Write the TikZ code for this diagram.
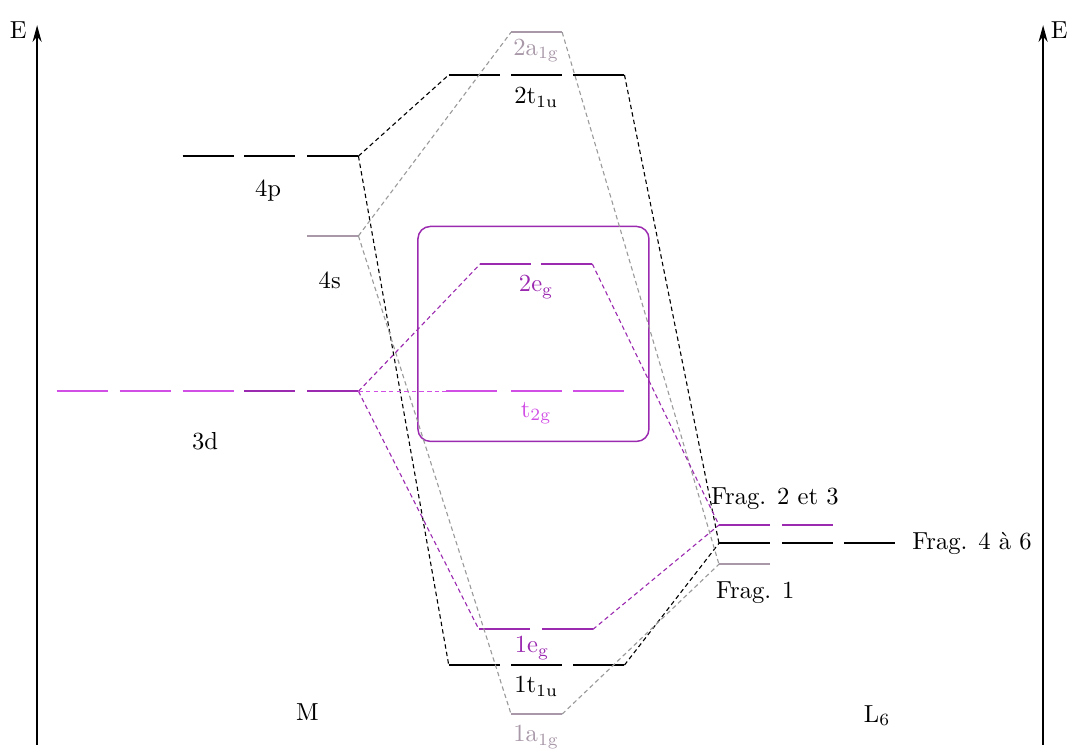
\documentclass[tikz,border=0pt]{standalone}
\usepackage{tikz}
\usetikzlibrary{arrows.meta, positioning}
\usepackage{xcolor}
\definecolor{egcol}{HTML}{9B2AB0}
\definecolor{tgcol}{HTML}{D24FE6}
\definecolor{agcol}{HTML}{A898A8}
\definecolor{aglink}{HTML}{9A9A9A}

\begin{document}
\begin{tikzpicture}[
    every node/.style={font=\normalsize, inner sep=1pt},
    lvl/.style={line width=0.75pt},
    link/.style={dash pattern=on 1.8pt off 1.3pt, line width=0.45pt},
    axis/.style={-{Stealth[length=2.4mm, width=1.3mm]}, line width=0.5pt},
    framebox/.style={draw=egcol, rounded corners=5pt, line width=0.6pt,
                     minimum width=3.30cm, minimum height=3.07cm}
]
    \useasboundingbox (0,0) rectangle (15.27,10.73);

    % Energy axes
    \coordinate (axLb) at (0.53, 0.09);
    \coordinate (axLt) at (0.53, 10.37);
    \coordinate (axRb) at (14.90, 0.09);
    \coordinate (axRt) at (14.90, 10.37);
    \draw[axis] (axLb) -- (axLt);
    \draw[axis] (axRb) -- (axRt);
    \node (eL) at (0.26, 10.30) {E};
    \node (eR) at (15.13, 10.30) {E};

    % Metal levels
    \foreach \x in {2.61, 3.49, 4.39}
        \draw[lvl] (\x, 8.50) -- ++(0.73, 0);
    \draw[lvl, agcol] (4.39, 7.36) -- ++(0.73, 0);
    \foreach \x in {0.81, 1.71, 2.61}
        \draw[lvl, tgcol] (\x, 5.14) -- ++(0.73, 0);
    \foreach \x in {3.49, 4.39}
        \draw[lvl, egcol] (\x, 5.14) -- ++(0.73, 0);
    \node (l4p) at (3.83, 8.01) {4p};
    \node (l4s) at (4.71, 6.73) {4s};
    \node (l3d) at (2.93, 4.43) {3d};
    \node (lM)  at (4.39, 0.56) {M};

    % Complex levels
    \draw[lvl, agcol] (7.30, 10.27) -- ++(0.73, 0);
    \foreach \x in {6.41, 7.30, 8.19}
        \draw[lvl] (\x, 9.66) -- ++(0.73, 0);
    \foreach \x in {6.86, 7.73}
        \draw[lvl, egcol] (\x, 6.96) -- ++(0.73, 0);
    \foreach \x in {6.37, 7.30, 8.19}
        \draw[lvl, tgcol] (\x, 5.14) -- ++(0.73, 0);
    \foreach \x in {6.84, 7.74}
        \draw[lvl, egcol] (\x, 1.74) -- ++(0.73, 0);
    \foreach \x in {6.41, 7.30, 8.19}
        \draw[lvl] (\x, 1.23) -- ++(0.73, 0);
    \draw[lvl, agcol] (7.30, 0.53) -- ++(0.73, 0);

    \node[agcol] (l2a) at (7.66, 10.01) {2a$_{\mathrm{1g}}$};
    \node (l2t)        at (7.66, 9.34)  {2t$_{\mathrm{1u}}$};
    \node[egcol] (l2e) at (7.66, 6.63)  {2e$_{\mathrm{g}}$};
    \node[tgcol] (lt2) at (7.66, 4.83)  {t$_{\mathrm{2g}}$};
    \node[egcol] (l1e) at (7.60, 1.47)  {1e$_{\mathrm{g}}$};
    \node (l1t)        at (7.66, 0.93)  {1t$_{\mathrm{1u}}$};
    \node[agcol] (l1a) at (7.66, 0.20)  {1a$_{\mathrm{1g}}$};

    \node[framebox] (box) at (7.62, 5.96) {};

    % Ligand levels
    \foreach \x in {10.27, 11.17}
        \draw[lvl, egcol] (\x, 3.23) -- ++(0.73, 0);
    \foreach \x in {10.27, 11.17, 12.06}
        \draw[lvl] (\x, 2.97) -- ++(0.73, 0);
    \draw[lvl, agcol] (10.27, 2.67) -- ++(0.73, 0);
    \node (lf23) at (11.07, 3.61) {Frag. 2 et 3};
    \node[anchor=west] (lf46) at (12.99, 2.97) {Frag. 4 à 6};
    \node (lf1)  at (10.79, 2.27) {Frag. 1};
    \node (lL)   at (12.53, 0.51) {L$_6$};

    % Level ends
    \coordinate (p4) at (5.12, 8.50);
    \coordinate (s4) at (5.12, 7.36);
    \coordinate (d3) at (5.12, 5.14);
    \coordinate (ag2L) at (7.30, 10.27);
    \coordinate (ag2R) at (8.03, 10.27);
    \coordinate (tu2L) at (6.41, 9.66);
    \coordinate (tu2R) at (8.92, 9.66);
    \coordinate (eg2L) at (6.86, 6.96);
    \coordinate (eg2R) at (8.46, 6.96);
    \coordinate (t2gL) at (6.37, 5.14);
    \coordinate (eg1L) at (6.84, 1.74);
    \coordinate (eg1R) at (8.47, 1.74);
    \coordinate (tu1L) at (6.41, 1.23);
    \coordinate (tu1R) at (8.92, 1.23);
    \coordinate (ag1L) at (7.30, 0.53);
    \coordinate (ag1R) at (8.03, 0.53);
    \coordinate (f23) at (10.27, 3.23);
    \coordinate (f46) at (10.27, 2.97);
    \coordinate (f1)  at (10.27, 2.67);

    % Correlation lines
    \draw[link] (p4) -- (tu2L);
    \draw[link] (p4) -- (tu1L);
    \draw[link] (tu2R) -- (f46);
    \draw[link] (tu1R) -- (f46);

    \draw[link, aglink] (s4) -- (ag2L);
    \draw[link, aglink] (s4) -- (ag1L);
    \draw[link, aglink] (ag2R) -- (f1);
    \draw[link, aglink] (ag1R) -- (f1);

    \draw[link, egcol] (d3) -- (eg2L);
    \draw[link, egcol] (d3) -- (eg1L);
    \draw[link, egcol] (eg2R) -- (f23);
    \draw[link, egcol] (eg1R) -- (f23);

    \draw[link, tgcol] (d3) -- (t2gL);
\end{tikzpicture}
\end{document}
